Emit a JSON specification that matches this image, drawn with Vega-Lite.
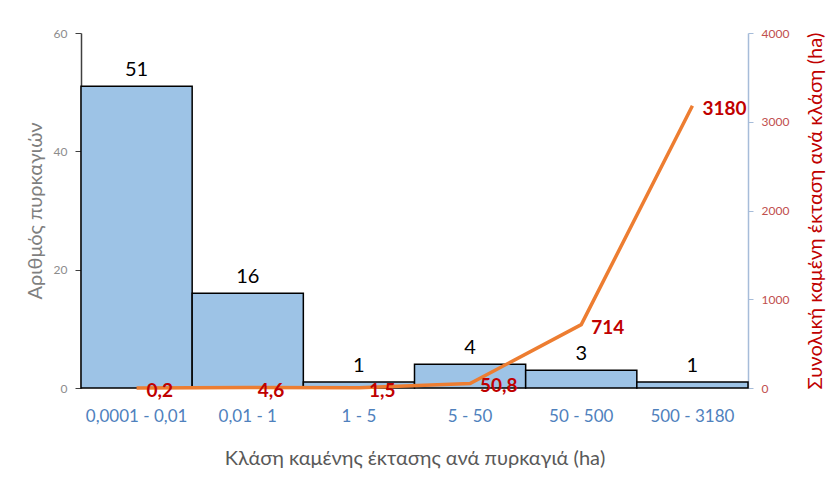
{
  "$schema": "https://vega.github.io/schema/vega-lite/v6.json",
  "width": 667,
  "height": 355,
  "autosize": {"type": "none"},
  "padding": {"left": 81, "top": 33, "right": 91, "bottom": 91},
  "background": "white",
  "config": {
    "view": {"stroke": null},
    "font": "Lato",
    "axis": {"grid": false, "labelFont": "Lato", "titleFont": "Lato", "titleFontWeight": "normal"}
  },
  "data": {
    "values": [
      {"cls": "0,0001 - 0,01", "n": 51, "area": 0.2, "lab": "0,2"},
      {"cls": "0,01 - 1", "n": 16, "area": 4.6, "lab": "4,6"},
      {"cls": "1 - 5", "n": 1, "area": 1.5, "lab": "1,5"},
      {"cls": "5 - 50", "n": 4, "area": 50.8, "lab": "50,8"},
      {"cls": "50 - 500", "n": 3, "area": 714, "lab": "714"},
      {"cls": "500 - 3180", "n": 1, "area": 3180, "lab": "3180"}
    ]
  },
  "encoding": {
    "x": {
      "field": "cls",
      "type": "nominal",
      "sort": null,
      "scale": {"paddingInner": 0, "paddingOuter": 0},
      "axis": {
        "title": "Κλάση καμένης έκτασης ανά πυρκαγιά (ha)",
        "titleColor": "#595959",
        "titleFontSize": 20,
        "titlePadding": 24,
        "labelAngle": 0,
        "labelColor": "#4f81bd",
        "labelFontSize": 17,
        "labelPadding": 20,
        "ticks": false,
        "domain": false
      }
    }
  },
  "layer": [
    {
      "layer": [
        {
          "mark": {"type": "bar", "fill": "#9dc3e6", "stroke": "#000000", "strokeWidth": 1.5},
          "encoding": {
            "y": {
              "field": "n",
              "type": "quantitative",
              "scale": {"domain": [0, 60]},
              "axis": {
                "title": "Αριθμός πυρκαγιών",
                "titleColor": "#7f7f7f",
                "titleFontSize": 20,
                "titlePadding": 8,
                "values": [0, 20, 40, 60],
                "labelColor": "#8c8c8c",
                "labelFontSize": 12,
                "labelPadding": 8,
                "tickSize": 6,
                "tickColor": "#404040",
                "domainColor": "#404040",
                "domainWidth": 1.5
              }
            }
          }
        },
        {
          "mark": {"type": "text", "baseline": "bottom", "dy": -6, "fontSize": 20, "color": "#000000"},
          "encoding": {
            "y": {"field": "n", "type": "quantitative"},
            "text": {"field": "n", "type": "quantitative"}
          }
        }
      ]
    },
    {
      "layer": [
        {
          "mark": {"type": "line", "color": "#ed7d31", "strokeWidth": 3.5},
          "encoding": {
            "y": {
              "field": "area",
              "type": "quantitative",
              "scale": {"domain": [0, 4000]},
              "axis": {
                "orient": "right",
                "title": "Συνολική καμένη έκταση ανά κλάση (ha)",
                "titleColor": "#c00000",
                "titleFontSize": 20,
                "titleAngle": -90,
                "titleBaseline": "bottom",
                "titlePadding": 37,
                "values": [0, 1000, 2000, 3000, 4000],
                "format": "d",
                "labelColor": "#c0504d",
                "labelFontSize": 12,
                "labelPadding": 8,
                "tickSize": 5,
                "tickColor": "#a6bcd9",
                "domainColor": "#a6bcd9",
                "domainWidth": 1.5
              }
            }
          }
        },
        {
          "mark": {"type": "text", "align": "left", "baseline": "middle", "dx": 10, "dy": 3, "fontSize": 19, "fontWeight": "bold", "color": "#c00000"},
          "encoding": {
            "y": {"field": "area", "type": "quantitative"},
            "text": {"field": "lab", "type": "nominal"}
          }
        }
      ]
    }
  ],
  "resolve": {"scale": {"y": "independent"}}
}
